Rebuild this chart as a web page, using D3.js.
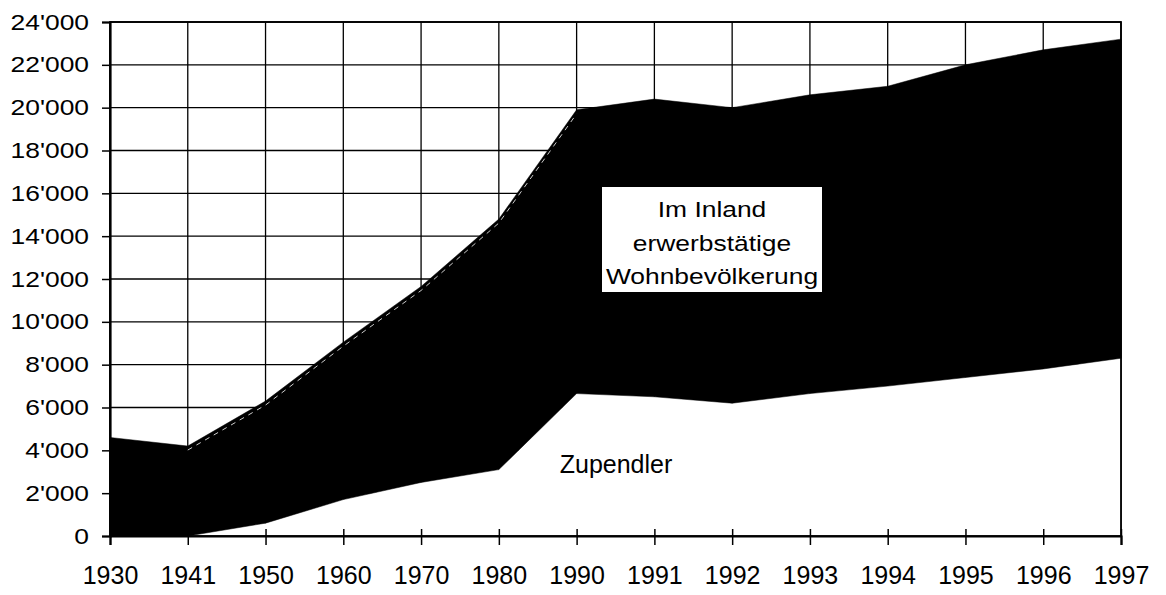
<!DOCTYPE html>
<html>
<head>
<meta charset="utf-8">
<script src="https://cdn.jsdelivr.net/npm/d3@7"></script>
<style>
  body { margin: 0; background: #fff; }
  text { font-family: "Liberation Sans", Arial, Helvetica, sans-serif; fill: #000; }
</style>
</head>
<body>
<svg id="chart" width="1166" height="595"></svg>
<script>
// categories (not evenly spaced years, drawn as equal steps)
var years = ["1930","1941","1950","1960","1970","1980","1990","1991","1992","1993","1994","1995","1996","1997"];
// Zupendler (bottom layer)
var zupendler = [0, 0, 600, 1700, 2500, 3100, 6650, 6500, 6200, 6650, 7000, 7400, 7800, 8300];
// Im Inland erwerbstätige Wohnbevölkerung (stacked on top)
var wohnbev = [4600, 4200, 5700, 7350, 9150, 11700, 13250, 13900, 13800, 13950, 14000, 14600, 14900, 14900];
var yTicks = [0, 2000, 4000, 6000, 8000, 10000, 12000, 14000, 16000, 18000, 20000, 22000, 24000];

var svg = d3.select('#chart');

var plotLeft = 110, plotRight = 1121, plotTop = 22, plotBottom = 536;

var x = d3.scalePoint().domain(years).range([plotLeft, plotRight]);
var y = d3.scaleLinear().domain([0, 24000]).range([plotBottom, plotTop]);

//table for the stack
var table = years.map(function(yr, i) {
  return { year: yr, zup: zupendler[i], wohn: wohnbev[i] };
});
var series = d3.stack().keys(['zup', 'wohn'])(table);

//grid behind everything
var grid = svg.append('g').attr('class', 'grid');
grid.selectAll('line.h')
  .data(yTicks)
  .enter().append('line')
  .attr('class', 'h')
  .attr('x1', plotLeft).attr('x2', plotRight)
  .attr('y1', function(d) { return y(d); })
  .attr('y2', function(d) { return y(d); })
  .attr('stroke', '#000').attr('stroke-width', 1.3);
grid.selectAll('line.v')
  .data(years)
  .enter().append('line')
  .attr('class', 'v')
  .attr('x1', function(d) { return x(d); })
  .attr('x2', function(d) { return x(d); })
  .attr('y1', plotTop).attr('y2', plotBottom)
  .attr('stroke', '#000').attr('stroke-width', 1.3);

//the two stacked areas: white for Zupendler, black on top
var area = d3.area()
  .x(function(d) { return x(d.data.year); })
  .y0(function(d) { return y(d[0]); })
  .y1(function(d) { return y(d[1]); });

var fills = { zup: '#fff', wohn: '#000' };
svg.append('g').selectAll('path')
  .data(series)
  .enter().append('path')
  .attr('d', area)
  .attr('fill', function(s) { return fills[s.key]; })
  .attr('stroke', function(s) { return fills[s.key]; })
  .attr('stroke-width', 0.5);

//faint white dashes just under the upper edge (scan look), 1941 to 1990
var topLine = d3.line()
  .x(function(d) { return x(d.data.year); })
  .y(function(d) { return y(d[1]) + 4; });
svg.append('path')
  .datum(series[1].slice(1, 7))
  .attr('d', topLine)
  .attr('fill', 'none')
  .attr('stroke', '#ccc')
  .attr('stroke-width', 1)
  .attr('stroke-dasharray', '5,5');

//frame
svg.append('rect')
  .attr('x', plotLeft).attr('y', plotTop)
  .attr('width', plotRight - plotLeft).attr('height', plotBottom - plotTop)
  .attr('fill', 'none').attr('stroke', '#000').attr('stroke-width', 1.8);

//y axis
var yAxis = svg.append('g')
  .attr('transform', 'translate(' + plotLeft + ',0)')
  .call(d3.axisLeft(y)
    .tickValues(yTicks)
    .tickSize(8)
    .tickFormat(function(d) { return d3.format(',')(d).replace(/,/g, "'"); }));
yAxis.select('.domain').attr('stroke-width', 2.2);
yAxis.selectAll('.tick line').attr('stroke-width', 1.5);
yAxis.selectAll('.tick text')
  .attr('x', 0)
  .attr('transform', 'translate(-21,0) scale(1.2,1)')
  .style('font-size', '22px');

//x axis, ticks cross the line
var xAxis = svg.append('g')
  .attr('transform', 'translate(0,' + plotBottom + ')')
  .call(d3.axisBottom(x).tickSize(9));
xAxis.select('.domain').attr('stroke-width', 2.2);
xAxis.selectAll('.tick line').attr('y1', -7).attr('y2', 9).attr('stroke-width', 1.5);
xAxis.selectAll('.tick text')
  .attr('y', 48)
  .attr('dy', 0)
  .style('font-size', '25px');

//labels
svg.append('text')
  .attr('x', 616).attr('y', 473)
  .attr('text-anchor', 'middle')
  .style('font-size', '25px')
  .text('Zupendler');

var box = svg.append('g');
box.append('rect')
  .attr('x', 602).attr('y', 187)
  .attr('width', 220).attr('height', 105)
  .attr('fill', '#fff');
var boxLines = ['Im Inland', 'erwerbstätige', 'Wohnbevölkerung'];
box.selectAll('text')
  .data(boxLines)
  .enter().append('text')
  .attr('text-anchor', 'middle')
  .attr('transform', function(d, i) { return 'translate(712,' + (217 + i * 33.5) + ') scale(1.2,1)'; })
  .style('font-size', '22px')
  .text(function(d) { return d; });
</script>
</body>
</html>
